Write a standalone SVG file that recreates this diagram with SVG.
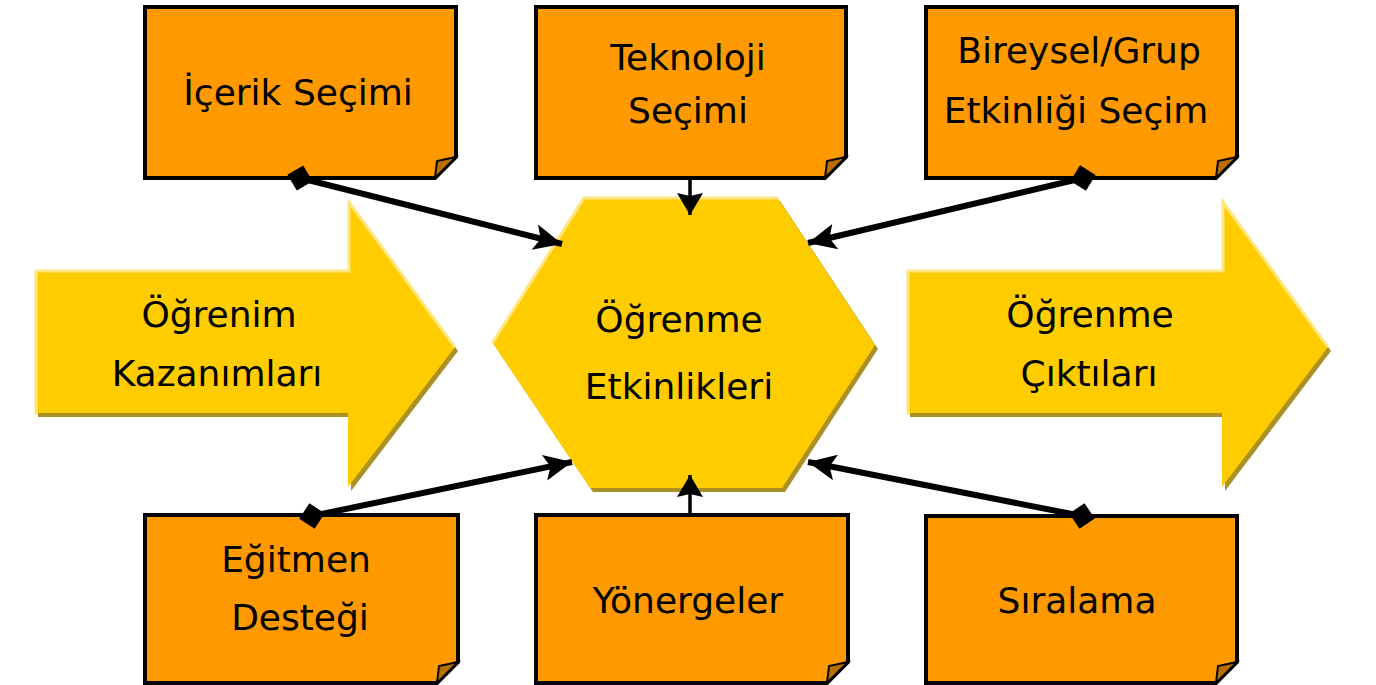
<svg xmlns="http://www.w3.org/2000/svg" width="1376" height="685" viewBox="0 0 1376 685">
<defs>
<style>
.box{fill:#FF9900;stroke:#000;stroke-width:4;stroke-linejoin:miter}
.fold{fill:#B86E00;stroke:#000;stroke-width:2}
.t{font-family:"DejaVu Sans",Verdana,sans-serif;font-size:36px;fill:#000;text-anchor:middle}
.yel{fill:#FFCC00}
.shd{fill:#9C7C00;opacity:0.85}
.hl{fill:none;stroke:#FFE680;stroke-width:3;stroke-linecap:square}
.con{stroke:#000;stroke-width:6;fill:none}
.conv{stroke:#000;stroke-width:3.5;fill:none}
</style>
<marker id="ah" markerUnits="userSpaceOnUse" markerWidth="34" markerHeight="34" refX="28" refY="13" orient="auto" overflow="visible">
<path d="M0,0 L28,13 L0,26 L6,13 z" fill="#000"/>
</marker>
<marker id="ahv" markerUnits="userSpaceOnUse" markerWidth="34" markerHeight="34" refX="22" refY="13" orient="auto" overflow="visible">
<path d="M0,0 L22,13 L0,26 L3,13 z" fill="#000"/>
</marker>
<marker id="dm" markerUnits="userSpaceOnUse" markerWidth="34" markerHeight="34" refX="13" refY="13" orient="auto" overflow="visible">
<path d="M0,13 L13,0 L26,13 L13,26 z" fill="#000"/>
</marker>
</defs>
<rect width="1376" height="685" fill="#fff"/>

<g id="arrow-left">
<polygon class="shd" points="38,274 351,274 351,204 458,351 351,491 351,417 38,417"/>
<polygon class="yel" points="35,270 348,270 348,200 455,347 348,487 348,413 35,413"/>
<polyline class="hl" points="36,413 36,271 349,271 349,202 454,346"/>
<text class="t" x="219" y="327">Öğrenim</text>
<text class="t" x="217" y="386">Kazanımları</text>
</g>

<g id="arrow-right">
<polygon class="shd" points="910,274 1225,274 1225,204 1331,351 1225,491 1225,417 910,417"/>
<polygon class="yel" points="907,270 1222,270 1222,200 1328,347 1222,487 1222,413 907,413"/>
<polyline class="hl" points="908,413 908,271 1223,271 1223,202 1327,346"/>
<text class="t" x="1090" y="327">Öğrenme</text>
<text class="t" x="1089" y="386">Çıktıları</text>
</g>

<g id="hexagon">
<polygon class="shd" points="586,201 780,201 878,349 785,492 593,492 495,346"/>
<polygon class="yel" points="583,197 777,197 875,345 782,488 590,488 492,342"/>
<polyline class="hl" points="493,342 584,198 776,198"/>
<text class="t" x="679" y="332">Öğrenme</text>
<text class="t" x="679" y="399">Etkinlikleri</text>
</g>

<g id="box-icerik">
<polygon class="box" points="145,7 456,7 456,157 435,178 145,178"/>
<polygon class="fold" points="456,157 435,178 437,161"/>
<text class="t" x="298" y="105">İçerik Seçimi</text>
</g>
<g id="box-teknoloji">
<polygon class="box" points="536,7 846,7 846,157 825,178 536,178"/>
<polygon class="fold" points="846,157 825,178 827,161"/>
<text class="t" x="688" y="70">Teknoloji</text>
<text class="t" x="688" y="123">Seçimi</text>
</g>
<g id="box-bireysel">
<polygon class="box" points="926,7 1237,7 1237,157 1216,178 926,178"/>
<polygon class="fold" points="1237,157 1216,178 1218,161"/>
<text class="t" x="1079" y="63">Bireysel/Grup</text>
<text class="t" x="1076" y="123">Etkinliği Seçim</text>
</g>
<g id="box-egitmen">
<polygon class="box" points="145,515 458,515 458,662 437,683 145,683"/>
<polygon class="fold" points="458,662 437,683 439,666"/>
<text class="t" x="296" y="572">Eğitmen</text>
<text class="t" x="300" y="630">Desteği</text>
</g>
<g id="box-yonergeler">
<polygon class="box" points="536,515 848,515 848,662 827,683 536,683"/>
<polygon class="fold" points="848,662 827,683 829,666"/>
<text class="t" x="688" y="613">Yönergeler</text>
</g>
<g id="box-siralama">
<polygon class="box" points="926,516 1237,516 1237,662 1216,683 926,683"/>
<polygon class="fold" points="1237,662 1216,683 1218,666"/>
<text class="t" x="1077" y="613">Sıralama</text>
</g>

<g id="connectors">
<line class="con" x1="300" y1="178" x2="562" y2="244" marker-start="url(#dm)" marker-end="url(#ah)"/>
<line class="conv" x1="690" y1="180" x2="690" y2="215" marker-end="url(#ahv)"/>
<line class="con" x1="1083" y1="178" x2="808" y2="243" marker-start="url(#dm)" marker-end="url(#ah)"/>
<line class="con" x1="312" y1="516" x2="572" y2="462" marker-start="url(#dm)" marker-end="url(#ah)"/>
<line class="conv" x1="690" y1="513" x2="690" y2="475" marker-end="url(#ahv)"/>
<line class="con" x1="1082" y1="516" x2="808" y2="462" marker-start="url(#dm)" marker-end="url(#ah)"/>
</g>
</svg>
